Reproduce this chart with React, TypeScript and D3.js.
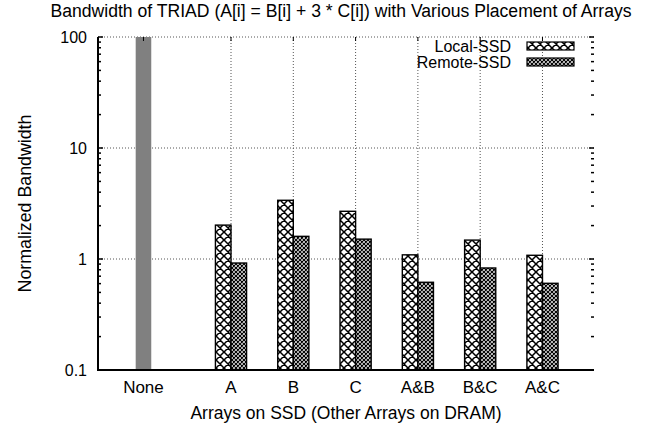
import React from "react";
import * as d3 from "d3";

const categories = ["None", "A", "B", "C", "A&B", "B&C", "A&C"];
const baselineValues = [100, null, null, null, null, null, null];
const localSSD = [null, 2.02, 3.38, 2.69, 1.09, 1.48, 1.08];
const remoteSSD = [null, 0.92, 1.6, 1.51, 0.617, 0.83, 0.604];
const seriesNames = ["Local-SSD", "Remote-SSD"];
const yTickValues = [0.1, 1, 10, 100];
const yTickLabels = ["0.1", "1", "10", "100"];

const W = 654;
const H = 427;
const M = { left: 98, right: 594, top: 37, bottom: 370 };
const FONT = "'Liberation Sans', Arial, Helvetica, sans-serif";

export default function App() {
  // category position index: "None" sits 1.405 steps left of "A"
  const catPos = categories.map((_, i) => (i === 0 ? -1.405 : i - 1));
  const x = d3.scaleLinear().domain([-2.135, 5.827]).range([M.left, M.right]);
  const y = d3.scaleLog().domain([0.1, 100]).range([M.bottom, M.top]);
  const bw = x(0.25) - x(0);

  const minor: number[] = [];
  [0.1, 1, 10].forEach((d) => {
    for (let k = 2; k <= 9; k++) minor.push(d * k);
  });

  const grid = "#555";
  const barStroke = 1.4;

  return (
    <svg width={W} height={H} style={{ display: "block", position: "absolute", left: 0, top: 0, background: "#fff" }} fontFamily={FONT}>
      <defs>
        <pattern id="pLocal" patternUnits="userSpaceOnUse" width={8} height={8}>
          <rect width={8} height={8} fill="#fff" />
          <path d="M0,0L8,8M8,0L0,8M-1,7L1,9M7,-1L9,1M-1,1L1,-1M7,9L9,7" stroke="#000" strokeWidth={1.5} />
        </pattern>
        <pattern id="pRemote" patternUnits="userSpaceOnUse" width={4} height={4}>
          <rect width={4} height={4} fill="#fff" />
          <path d="M0,0L4,4M4,0L0,4M-1,3L1,5M3,-1L5,1M-1,1L1,-1M3,5L5,3" stroke="#000" strokeWidth={1.2} />
        </pattern>
      </defs>
      <rect width={W} height={H} fill="#fff" />

      {/* title */}
      <text x={341} y={17} fontSize={17.6} textAnchor="middle" fill="#000">
        Bandwidth of TRIAD (A[i] = B[i] + 3 * C[i]) with Various Placement of Arrays
      </text>

      {/* horizontal grid */}
      {yTickValues.slice(1).map((v) => (
        <line key={"hg" + v} x1={M.left} x2={M.right} y1={y(v)} y2={y(v)} stroke={grid} strokeWidth={1} strokeDasharray="1 2" />
      ))}
      {/* vertical grid */}
      {catPos.slice(1).map((p, i) => (
        <line key={"vg" + i} x1={x(p)} x2={x(p)} y1={M.top} y2={M.bottom} stroke={grid} strokeWidth={1} strokeDasharray="1 2" />
      ))}

      {/* bars */}
      {baselineValues.map((v, i) =>
        v == null ? null : (
          <rect key={"n" + i} x={x(catPos[i]) - bw / 2} y={y(v)} width={bw} height={y(0.1) - y(v)} fill="#808080" />
        )
      )}
      {localSSD.map((v, i) =>
        v == null ? null : (
          <rect key={"l" + i} x={x(catPos[i]) - bw} y={y(v)} width={bw} height={y(0.1) - y(v)} fill="url(#pLocal)" stroke="#000" strokeWidth={barStroke} />
        )
      )}
      {remoteSSD.map((v, i) =>
        v == null ? null : (
          <rect key={"r" + i} x={x(catPos[i])} y={y(v)} width={bw} height={y(0.1) - y(v)} fill="url(#pRemote)" stroke="#000" strokeWidth={barStroke} />
        )
      )}

      {/* y ticks left & right */}
      {yTickValues.map((v) => (
        <g key={"yt" + v}>
          <line x1={M.left} x2={M.left + 5} y1={y(v)} y2={y(v)} stroke="#000" strokeWidth={1.5} />
          <line x1={M.right - 5} x2={M.right} y1={y(v)} y2={y(v)} stroke="#000" strokeWidth={1.5} />
        </g>
      ))}
      {minor.map((v) => (
        <g key={"ym" + v}>
          <line x1={M.left} x2={M.left + 3} y1={y(v)} y2={y(v)} stroke="#000" strokeWidth={1.5} />
          <line x1={M.right - 3} x2={M.right} y1={y(v)} y2={y(v)} stroke="#000" strokeWidth={1.5} />
        </g>
      ))}
      {yTickValues.map((v, i) => (
        <text key={"yl" + v} x={M.left - 11} y={y(v)} dy="0.36em" fontSize={16} textAnchor="end" fill="#000">
          {yTickLabels[i]}
        </text>
      ))}

      {/* x ticks top (mirror) */}
      {catPos.map((p, i) => (
        <line key={"xt" + i} x1={x(p)} x2={x(p)} y1={M.top} y2={M.top + 4} stroke="#000" strokeWidth={1} />
      ))}
      {categories.map((c, i) => (
        <text key={"xl" + i} x={x(catPos[i])} y={393} fontSize={17} textAnchor="middle" fill="#000">
          {c}
        </text>
      ))}

      {/* axes (border 3) */}
      <path d={`M${M.left},${M.top}V${M.bottom}H${M.right}`} fill="none" stroke="#000" strokeWidth={2} />

      {/* axis titles */}
      <text x={346} y={419} fontSize={17.5} textAnchor="middle" fill="#000">
        Arrays on SSD (Other Arrays on DRAM)
      </text>
      <text transform={`translate(31,${(M.top + M.bottom) / 2}) rotate(-90)`} fontSize={17.8} textAnchor="middle" fill="#000">
        Normalized Bandwidth
      </text>

      {/* legend */}
      {seriesNames.map((s, i) => (
        <g key={"lg" + i}>
          <text x={511} y={46 + i * 16} dy="0.36em" fontSize={16} textAnchor="end" fill="#000">
            {s}
          </text>
          <rect x={527} y={42 + i * 16} width={47} height={8} fill={i === 0 ? "url(#pLocal)" : "url(#pRemote)"} stroke="#000" strokeWidth={1.2} />
        </g>
      ))}
    </svg>
  );
}
